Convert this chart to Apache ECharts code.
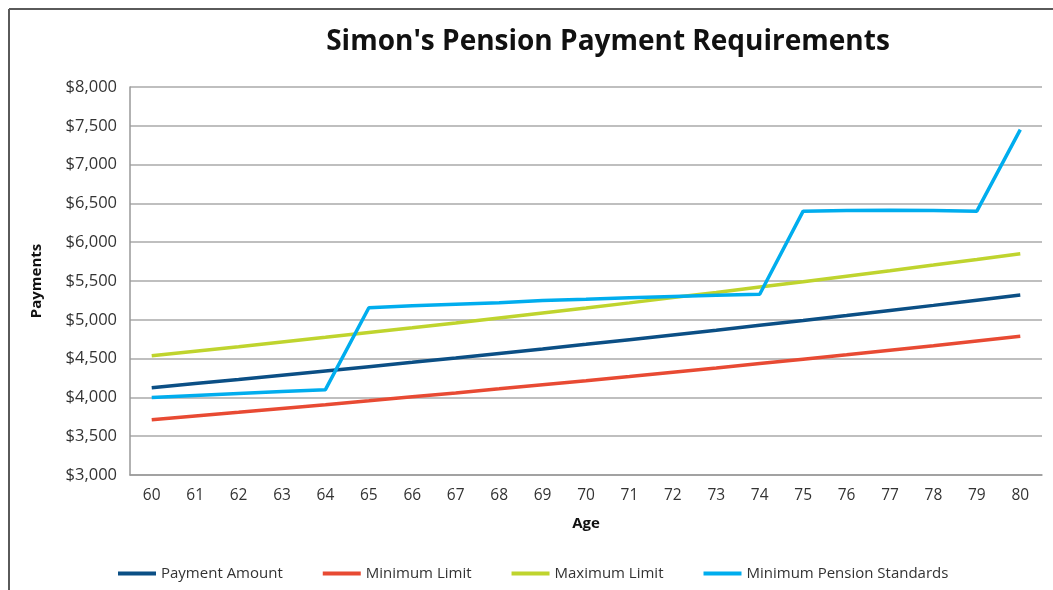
<!DOCTYPE html>
<html><head><meta charset="utf-8">
<script src="https://cdn.jsdelivr.net/npm/echarts@6/dist/echarts.min.js"></script>
<style>html,body{margin:0;padding:0;background:#fff}#c{width:1053px;height:590px}</style>
</head><body><div id="c"></div>
<script>
const ages = ['60','61','62','63','64','65','66','67','68','69','70','71','72','73','74','75','76','77','78','79','80'];
const paymentAmount = [4125,4178,4231,4285,4340,4396,4452,4509,4567,4625,4684,4744,4805,4866,4929,4992,5056,5121,5186,5253,5320];
const minimumLimit = [3712,3760,3808,3857,3906,3956,4007,4058,4110,4163,4216,4270,4325,4379,4436,4493,4550,4609,4667,4728,4788];
const maximumLimit = [4537,4596,4654,4714,4774,4836,4897,4960,5024,5088,5152,5218,5286,5353,5422,5491,5562,5633,5705,5778,5852];
const minPensionStandards = [4000,4025,4050,4075,4100,5155,5180,5200,5220,5250,5265,5285,5300,5315,5330,6400,6408,6413,6408,6400,7450];
const yTicks = {min:3000, max:8000, interval:500};

const chart = echarts.init(document.getElementById('c'));
const font = '"Open Sans", "Noto Sans", sans-serif';
function s(name, data, color){
  return {name, type:'line', data, symbol:'none', smooth:false,
    lineStyle:{color, width:3.5}, itemStyle:{color}};
}
chart.setOption({
  animation:false,
  textStyle:{fontFamily:font},
  title:{text:"Simon's Pension Payment Requirements", left:603, top:23, textAlign:'center',
    textStyle:{fontFamily:font, fontSize:28, fontWeight:'bold', color:'#111'}},
  graphic:[
    {type:'line', shape:{x1:9, y1:9, x2:1053, y2:9}, style:{stroke:'#5a5a5a', lineWidth:2}},
    {type:'line', shape:{x1:9, y1:9, x2:9, y2:590}, style:{stroke:'#5a5a5a', lineWidth:2}}
  ],
  grid:{left:130, right:11, top:87, bottom:115},
  legend:{bottom:4, left:113, itemWidth:38, itemHeight:4, itemGap:40, icon:'rect',
    textStyle:{fontFamily:font, fontSize:15, color:'#333'},
    data:['Payment Amount','Minimum Limit','Maximum Limit','Minimum Pension Standards']},
  xAxis:{type:'category', data:ages, boundaryGap:true,
    name:'Age', nameLocation:'middle', nameGap:41,
    nameTextStyle:{fontFamily:font, fontSize:15, fontWeight:'bold', color:'#111'},
    axisLine:{lineStyle:{color:'#999', width:1.5}}, axisTick:{show:false},
    axisLabel:{fontFamily:font, fontSize:15.5, color:'#333', margin:13}},
  yAxis:{type:'value', min:yTicks.min, max:yTicks.max, interval:yTicks.interval,
    name:'Payments', nameLocation:'middle', nameGap:86, nameRotate:90,
    nameTextStyle:{fontFamily:font, fontSize:15, fontWeight:'bold', color:'#111'},
    axisLine:{show:true, lineStyle:{color:'#999', width:1.5}}, axisTick:{show:false},
    splitLine:{lineStyle:{color:'#aaa', width:1.5}},
    axisLabel:{fontFamily:font, fontSize:16.5, color:'#333', margin:13,
      formatter:v=>'$'+v.toLocaleString('en-US')}},
  series:[
    s('Payment Amount', paymentAmount, '#0b4f85'),
    s('Minimum Limit', minimumLimit, '#e84a33'),
    s('Maximum Limit', maximumLimit, '#bfd42e'),
    s('Minimum Pension Standards', minPensionStandards, '#00adee')
  ]
});
</script></body></html>
